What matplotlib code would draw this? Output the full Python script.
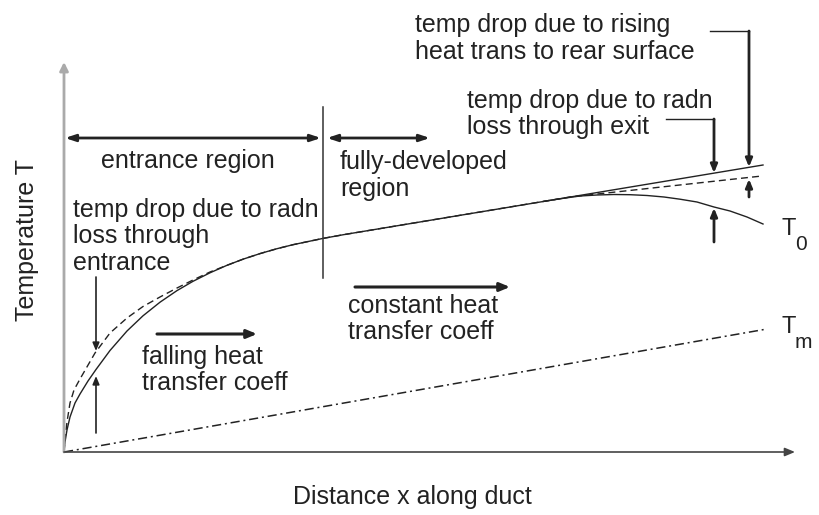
import matplotlib
matplotlib.use("Agg")
import matplotlib.pyplot as plt

plt.rcParams['font.family'] = ['Liberation Sans', 'DejaVu Sans']

# wall temperature with radiation loss at the entrance (solid), rising then linear
x_wall = [0, 1, 3, 6, 11, 16, 24, 32, 46, 63, 79, 96, 113, 129, 146, 163,
          179, 196, 213, 229, 259, 280, 699]
T_wall = [0, 10, 22, 35, 49, 58, 71, 82.5, 101.5, 121, 136.2, 149.8, 161.4, 170.7,
          179.2, 186.7, 192.8, 198.4, 203.3, 207.3, 213.6, 217.4, 287]

# wall temperature without entrance radiation loss, lower near the exit (dashed)
x_ideal = [0, 1, 3, 6, 10, 16, 31, 46, 63, 79, 96, 113, 129, 146, 163,
           179, 196, 213, 229, 259, 280, 506, 698]
T_ideal = [0, 13, 30, 49, 62, 73, 99, 119, 134, 145.5, 155, 164, 172, 180, 186.7,
           192.8, 198.4, 203.3, 207.3, 213.6, 217.4, 255, 276]

# T0 falling off towards the exit
x_exit = [480, 500, 516, 533, 550, 566, 583, 600, 616, 633, 650, 666, 683, 699]
T_exit = [250.7, 253.8, 256, 257, 257.5, 257.3, 256.5, 255, 252.8, 250, 245,
          241, 235, 228]

# bulk temperature Tm
x_bulk = [0, 703]
T_bulk = [0, 123]

x_split = 259      # end of entrance region
T_top = 390        # top of T axis
x_end = 731        # end of x axis

ink = '#222222'
fs = 18

fig = plt.figure(figsize=(8.2, 5.15), dpi=100)
ax = fig.add_axes([0, 0, 1, 1])
ax.set_xlim(-64, 756)
ax.set_ylim(-63, 452)
ax.axis('off')

# axes with arrowheads
ax.annotate('', xy=(0, T_top), xytext=(0, 0),
            arrowprops=dict(arrowstyle='-|>,head_length=0.5,head_width=0.25',
                            lw=2.0, color='#aaaaaa', shrinkA=0, shrinkB=0,
                            mutation_scale=10))
ax.annotate('', xy=(x_end, 0), xytext=(0, 0),
            arrowprops=dict(arrowstyle='-|>,head_length=0.6,head_width=0.25',
                            lw=1.2, color='#444444', shrinkA=0, shrinkB=0,
                            mutation_scale=10))

ax.plot(x_ideal, T_ideal, color=ink, lw=1.0, dashes=(5, 3))
ax.plot(x_wall, T_wall, color=ink, lw=1.0)
ax.plot(x_exit, T_exit, color=ink, lw=1.0)
ax.plot(x_bulk, T_bulk, color=ink, lw=1.1, dashes=(6, 2.5, 1.3, 2.5))

# region boundary and region arrows
ax.plot([x_split, x_split], [174, 345], color='#333333', lw=1.1)
head = '<|-|>,head_length=0.6,head_width=0.2'
ax.annotate('', xy=(x_split - 2, 314), xytext=(1, 314),
            arrowprops=dict(arrowstyle=head, lw=2.0, color=ink,
                            shrinkA=0, shrinkB=0, mutation_scale=10))
ax.annotate('', xy=(366, 314), xytext=(x_split + 4, 314),
            arrowprops=dict(arrowstyle=head, lw=2.0, color=ink,
                            shrinkA=0, shrinkB=0, mutation_scale=10))

fwd = '-|>,head_length=0.6,head_width=0.25'
ax.annotate('', xy=(193, 118), xytext=(93, 118),
            arrowprops=dict(arrowstyle=fwd, lw=2.2, color=ink,
                            shrinkA=0, shrinkB=0, mutation_scale=10))
ax.annotate('', xy=(446, 165), xytext=(291, 165),
            arrowprops=dict(arrowstyle=fwd, lw=2.2, color=ink,
                            shrinkA=0, shrinkB=0, mutation_scale=10))

# entrance radiation loss arrows
ax.annotate('', xy=(32, 101), xytext=(32, 175),
            arrowprops=dict(arrowstyle=fwd, lw=1.2, color=ink,
                            shrinkA=0, shrinkB=0, mutation_scale=8))
ax.annotate('', xy=(32, 76), xytext=(32, 19),
            arrowprops=dict(arrowstyle=fwd, lw=1.2, color=ink,
                            shrinkA=0, shrinkB=0, mutation_scale=8))

# exit radiation loss
ax.plot([602, 650], [333, 333], color=ink, lw=1.0)
ax.annotate('', xy=(650, 279), xytext=(650, 333),
            arrowprops=dict(arrowstyle=fwd, lw=2.0, color=ink,
                            shrinkA=0, shrinkB=0, mutation_scale=8))
ax.annotate('', xy=(650, 244), xytext=(650, 210),
            arrowprops=dict(arrowstyle=fwd, lw=2.0, color=ink,
                            shrinkA=0, shrinkB=0, mutation_scale=8))

# heat transfer to rear surface
ax.plot([646, 685], [421, 421], color=ink, lw=1.0)
ax.annotate('', xy=(685, 285), xytext=(685, 421),
            arrowprops=dict(arrowstyle=fwd, lw=2.0, color=ink,
                            shrinkA=0, shrinkB=0, mutation_scale=8))
ax.annotate('', xy=(685, 273), xytext=(685, 255),
            arrowprops=dict(arrowstyle=fwd, lw=2.0, color=ink,
                            shrinkA=0, shrinkB=0, mutation_scale=8))

txt = dict(fontsize=fs, color=ink, linespacing=1.15)
ax.text(124, 291, 'entrance region', ha='center', va='center', **txt)
ax.text(276, 276.5, 'fully-developed\nregion', ha='left', va='center', **txt)
ax.text(9, 215.5, 'temp drop due to radn\nloss through\nentrance',
        ha='left', va='center', **txt)
ax.text(78, 82, 'falling heat\ntransfer coeff', ha='left', va='center', **txt)
ax.text(284, 133, 'constant heat\ntransfer coeff', ha='left', va='center', **txt)
ax.text(351, 413.5, 'temp drop due to rising\nheat trans to rear surface',
        ha='left', va='center', **txt)
ax.text(403, 338, 'temp drop due to radn\nloss through exit',
        ha='left', va='center', **txt)

# curve labels with lowered subscripts
ax.text(718, 217, 'T', ha='left', va='baseline', fontsize=17, color=ink)
ax.text(731, 202, '0', ha='left', va='baseline', fontsize=15, color=ink)
ax.text(718, 119, 'T', ha='left', va='baseline', fontsize=17, color=ink)
ax.text(731, 104, 'm', ha='left', va='baseline', fontsize=15, color=ink)

ax.text(-37, 212, 'Temperature T', rotation=90, ha='center', va='center', **txt)
ax.text(348, -45, 'Distance x along duct', ha='center', va='center', **txt)

fig.savefig('out.png', dpi=100, facecolor='white')
